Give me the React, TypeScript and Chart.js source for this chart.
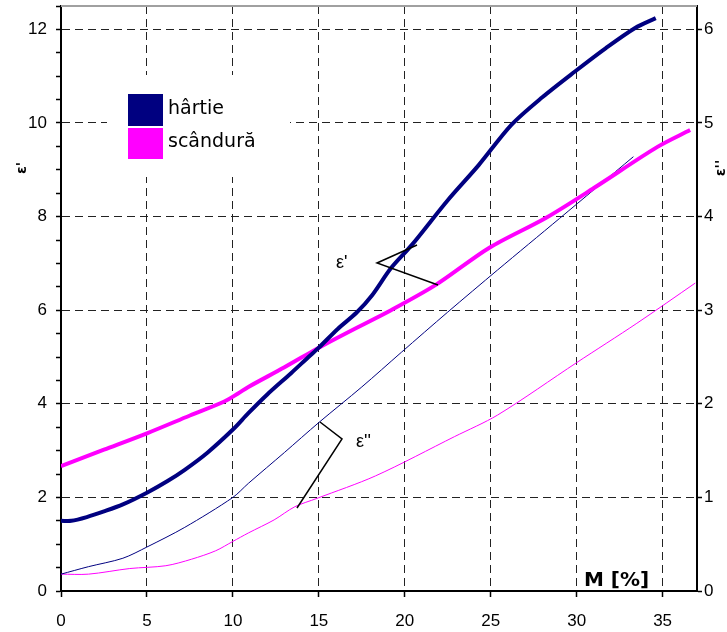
import React, { useEffect, useRef } from "react";
import { Chart, registerables } from "chart.js";

Chart.register(...registerables);

// ε' – hârtie (paper)
const hartieEpsM = [0, 0.6, 1.5, 2.5, 3.6, 5, 6.2, 7.2, 8.5, 10, 10.9, 12, 13.4, 14.4, 15, 16.1, 17.2, 18.1, 19.2, 20.4, 22.5, 24.3, 26.2, 28, 29.9, 31.7, 33.4, 34.6];
const hartieEpsV = [1.5, 1.5, 1.58, 1.7, 1.85, 2.1, 2.35, 2.59, 2.95, 3.45, 3.8, 4.2, 4.66, 5.0, 5.2, 5.6, 5.95, 6.32, 6.9, 7.39, 8.35, 9.1, 9.96, 10.55, 11.1, 11.6, 12.03, 12.24];
// ε' – scândură (board)
const scanduraEpsM = [0, 2.5, 5, 7.5, 9.5, 10.3, 10.9, 13, 15, 16.7, 19.2, 21.8, 24.9, 28.2, 31, 34.7, 36.6];
const scanduraEpsV = [2.67, 3.02, 3.37, 3.75, 4.05, 4.22, 4.36, 4.78, 5.2, 5.53, 6.0, 6.54, 7.33, 7.97, 8.61, 9.49, 9.85];
// ε'' – hârtie
const hartieEpsDM = [0, 1.6, 3.6, 5, 7.2, 10, 10.9, 13, 15, 17.5, 19.8, 22.5, 25.4, 29, 33.3];
const hartieEpsDV = [0.18, 0.26, 0.35, 0.47, 0.68, 1.0, 1.15, 1.48, 1.8, 2.18, 2.55, 2.98, 3.43, 3.98, 4.64];
// ε'' – scândură
const scanduraEpsDM = [0, 1.6, 4, 6.1, 7.6, 9, 10, 10.9, 12.4, 13.6, 14.9, 18.3, 22.9, 25.4, 30, 33.5, 36.9];
const scanduraEpsDV = [0.18, 0.18, 0.24, 0.27, 0.34, 0.43, 0.53, 0.62, 0.76, 0.9, 0.99, 1.23, 1.65, 1.88, 2.44, 2.86, 3.29];

const legendLabels = ["hârtie", "scândură"];
const xTitle = "M [%]";
const yLeftTitle = "ε'";
const yRightTitle = "ε''";
const annotEps1 = "ε'";
const annotEps2 = "ε''";

const NAVY = "#000080";
const MAGENTA = "#FF00FF";

const toPts = (xs: number[], ys: number[]) => xs.map((x, i) => ({ x, y: ys[i] }));

const overlayPlugin = {
  id: "overlay",
  beforeDatasetsDraw(chart: any) {
    const ctx = chart.ctx;
    ctx.save();
    ctx.fillStyle = "#fff";
    ctx.fillRect(107, 75, 183, 102);
    ctx.fillStyle = NAVY;
    ctx.fillRect(128, 94, 35, 32);
    ctx.fillStyle = MAGENTA;
    ctx.fillRect(128, 128, 35, 31);
    ctx.fillStyle = "#000";
    ctx.font = "19px 'DejaVu Sans'";
    ctx.textAlign = "left";
    ctx.textBaseline = "alphabetic";
    ctx.fillText(legendLabels[0], 168, 114);
    ctx.fillText(legendLabels[1], 168, 147);
    ctx.restore();
  },
  afterDraw(chart: any) {
    const ctx = chart.ctx;
    const a = chart.chartArea;
    ctx.save();
    // top border
    ctx.strokeStyle = "#a0a0a0";
    ctx.lineWidth = 2;
    ctx.beginPath();
    ctx.moveTo(a.left, a.top);
    ctx.lineTo(a.right, a.top);
    ctx.stroke();

    // annotation lines
    ctx.strokeStyle = "#000";
    ctx.lineWidth = 1.5;
    ctx.beginPath();
    ctx.moveTo(417, 245);
    ctx.lineTo(377, 263);
    ctx.lineTo(438, 285);
    ctx.stroke();
    ctx.beginPath();
    ctx.moveTo(320, 422);
    ctx.lineTo(342, 439);
    ctx.lineTo(297, 508);
    ctx.stroke();

    ctx.fillStyle = "#000";
    ctx.font = "18px 'Liberation Sans'";
    ctx.textAlign = "left";
    ctx.textBaseline = "alphabetic";
    ctx.fillText(annotEps1, 336, 268);
    ctx.fillText(annotEps2, 356, 447);

    // x title
    ctx.font = "bold 20px 'DejaVu Sans'";
    ctx.fillText(xTitle, 584, 586);

    // y titles rotated
    ctx.font = "bold 14px 'DejaVu Sans'";
    ctx.textAlign = "center";
    ctx.textBaseline = "middle";
    ctx.save();
    ctx.translate(22, 168);
    ctx.rotate(-Math.PI / 2);
    ctx.fillText(yLeftTitle, 0, 0);
    ctx.restore();
    ctx.save();
    ctx.translate(721, 168);
    ctx.rotate(-Math.PI / 2);
    ctx.fillText(yRightTitle, 0, 0);
    ctx.restore();
    ctx.restore();
  },
};

export default function App() {
  const ref = useRef<HTMLCanvasElement | null>(null);
  useEffect(() => {
    if (!ref.current) return;
    const tickFont = { family: "'Liberation Sans', Arial, sans-serif", size: 17 };
    const chart = new Chart(ref.current, {
      type: "line",
      data: {
        datasets: [
          { label: "hârtie ε'", data: toPts(hartieEpsM, hartieEpsV), borderColor: NAVY, borderWidth: 4, pointRadius: 0, yAxisID: "y", tension: 0.3, fill: false },
          { label: "scândură ε'", data: toPts(scanduraEpsM, scanduraEpsV), borderColor: MAGENTA, borderWidth: 4, pointRadius: 0, yAxisID: "y", tension: 0.3, fill: false },
          { label: "hârtie ε''", data: toPts(hartieEpsDM, hartieEpsDV), borderColor: NAVY, borderWidth: 1, pointRadius: 0, yAxisID: "y2", tension: 0.3, fill: false },
          { label: "scândură ε''", data: toPts(scanduraEpsDM, scanduraEpsDV), borderColor: MAGENTA, borderWidth: 1, pointRadius: 0, yAxisID: "y2", tension: 0.3, fill: false },
        ],
      },
      options: {
        responsive: false,
        animation: false,
        layout: { padding: { top: 6, left: 0, right: 0, bottom: 0 } },
        plugins: { legend: { display: false }, tooltip: { enabled: false } },
        scales: {
          x: {
            type: "linear",
            min: 0,
            max: 37,
            ticks: { stepSize: 5, includeBounds: false, color: "#000", font: tickFont, padding: 14, maxRotation: 0, autoSkip: false },
            grid: {
              color: (c: any) => (c.tick && c.tick.value === 0 ? "transparent" : "#222"),
              lineWidth: 1,
              tickLength: 6,
              tickColor: "#000",
              tickWidth: 1.5,
            },
            border: { display: true, color: "#000", width: 2, dash: [8, 5] },
            afterFit: (s: any) => {
              s.height = 41;
              s.paddingLeft = 0;
              s.paddingRight = 0;
            },
          },
          y: {
            position: "left",
            min: 0,
            max: 12.5,
            ticks: {
              stepSize: 0.5,
              includeBounds: false,
              autoSkip: false,
              color: "#000",
              font: tickFont,
              padding: 9,
              callback: (v: any) => (Math.abs(v % 2) < 1e-9 ? String(v) : ""),
            },
            grid: {
              color: (c: any) => (c.tick && Math.abs(c.tick.value % 2) < 1e-9 && c.tick.value !== 0 ? "#222" : "transparent"),
              lineWidth: 1,
              tickLength: 5,
              tickColor: "#000",
              tickWidth: 1.5,
            },
            border: { display: true, color: "#000", width: 2, dash: [8, 5] },
            afterFit: (s: any) => {
              s.width = 61;
              s.paddingTop = 0;
              s.paddingBottom = 0;
            },
          },
          y2: {
            position: "right",
            min: 0,
            max: 6.25,
            ticks: { stepSize: 1, includeBounds: false, autoSkip: false, color: "#000", font: tickFont, padding: 2 },
            grid: { drawOnChartArea: false, tickLength: 5, tickColor: "#000", tickWidth: 1.5 },
            border: { display: true, color: "#000", width: 2 },
            afterFit: (s: any) => {
              s.width = 30;
              s.paddingTop = 0;
              s.paddingBottom = 0;
            },
          },
        },
      },
      plugins: [overlayPlugin],
    } as any);
    return () => chart.destroy();
  }, []);
  return (
    <div style={{ position: "absolute", left: 0, top: 0, width: 727, height: 632, background: "#fff" }}>
      <canvas ref={ref} width={727} height={632} style={{ width: 727, height: 632, display: "block" }} />
    </div>
  );
}
